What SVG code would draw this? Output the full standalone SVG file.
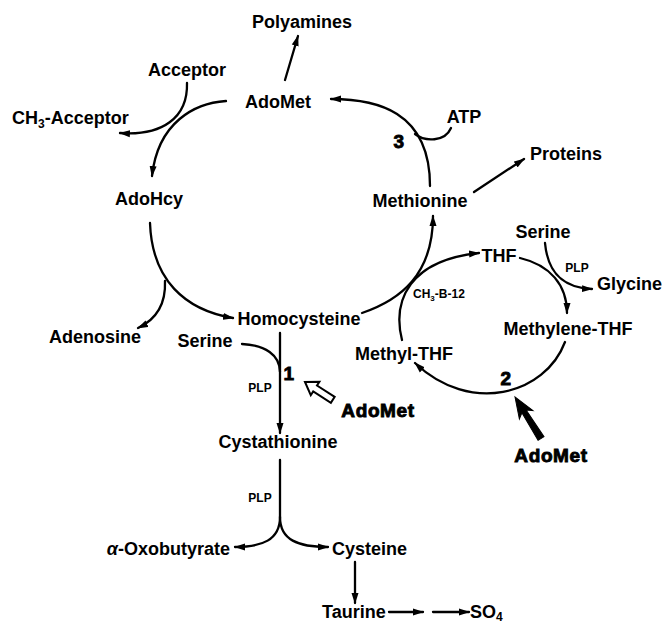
<svg xmlns="http://www.w3.org/2000/svg" width="665" height="624" viewBox="0 0 665 624">
<defs>
<marker id="ah" markerUnits="userSpaceOnUse" markerWidth="11" markerHeight="8" refX="10" refY="4" orient="auto">
<path d="M0,0.5 L11,4 L0,7.5 Z" fill="#000"/>
</marker>
<style>
.t{font-family:"Liberation Sans",Arial,sans-serif;font-weight:bold;font-size:18px;fill:#000}
.s{font-family:"Liberation Sans",Arial,sans-serif;font-weight:bold;font-size:12px;fill:#000}
.h{font-family:"Liberation Sans",Arial,sans-serif;font-weight:900;font-size:19px;fill:#000;stroke:#000;stroke-width:0.9;letter-spacing:0.6px}
.c{fill:none;stroke:#000;stroke-width:2.3;stroke-linecap:round}
.a{marker-end:url(#ah)}
.m{text-anchor:middle}
</style>
</defs>
<rect width="665" height="624" fill="#fff"/>
<g id="connectors">
<path class="c a" d="M226,101 C195,103 158,122 152,176"/>
<path class="c a" d="M187,83 C188,118 162,136 120,133"/>
<path class="c a" d="M285,80 L298,36"/>
<path class="c a" d="M430,186 C430,110 375,99 331,99"/>
<path class="c" d="M451,128 C445,142 425,142 415,134"/>
<path class="c a" d="M474,192 L524,159"/>
<path class="c a" d="M150,223 C152,280 185,310 233,318"/>
<path class="c a" d="M165,281 C166,305 155,320 138,328"/>
<path class="c a" d="M362,313 C400,300 433,275 433,216"/>
<path class="c a" d="M402,340 C392,300 410,260 479,253"/>
<path class="c a" d="M520,258 C550,265 567,285 567,313"/>
<path class="c a" d="M545,243 C548,275 565,288 592,289"/>
<path class="c a" d="M565,342 C545,395 470,415 415,363"/>
<path class="c a" d="M280,333 L280,433"/>
<path class="c" d="M242,344 C265,345 280,355 280,372"/>
<path class="c" d="M280,460 L280,517"/>
<path class="c a" d="M280,517 C280,540 262,547 235,547"/>
<path class="c a" d="M280,517 C280,540 298,547 328,547"/>
<path class="c a" d="M355,562 L355,603"/>
<path class="c a" d="M389,612 L423,612"/>
<path class="c a" d="M433,612 L469,612"/>
<polygon points="0,0 -12,-8 -12,-3.5 -33,-3.5 -33,3.5 -12,3.5 -12,8" transform="translate(305,382) rotate(212.7)" fill="#fff" stroke="#000" stroke-width="2" stroke-linejoin="miter"/>
<polygon points="0,0 -21,-8 -17,-2.5 -49,-3.5 -49,3.5 -17,2.5 -21,8" transform="translate(515,397) rotate(237.9)" fill="#000" stroke="#000" stroke-width="1"/>
</g>
<g id="n-polyamines"><text class="t m" x="302" y="28">Polyamines</text></g>
<g id="n-acceptor"><text class="t m" x="187" y="76">Acceptor</text></g>
<g id="n-adomet"><text class="t m" x="278" y="108">AdoMet</text></g>
<g id="n-ch3acceptor"><text class="t" x="12" y="124">CH<tspan font-size="12" dy="4">3</tspan><tspan dy="-4">-Acceptor</tspan></text></g>
<g id="n-adohcy"><text class="t m" x="149" y="205">AdoHcy</text></g>
<g id="n-atp"><text class="t m" x="464" y="123">ATP</text></g>
<g id="n-3"><text class="h m" x="399" y="148">3</text></g>
<g id="n-proteins"><text class="t" x="530" y="160">Proteins</text></g>
<g id="n-methionine"><text class="t m" x="420" y="207">Methionine</text></g>
<g id="n-serine2"><text class="t m" x="543" y="238">Serine</text></g>
<g id="n-thf"><text class="t m" x="499" y="262">THF</text></g>
<g id="n-plp2"><text class="s m" x="577" y="272">PLP</text></g>
<g id="n-glycine"><text class="t" x="597" y="290">Glycine</text></g>
<g id="n-ch3b12"><text class="s" x="413" y="298">CH<tspan font-size="8" dy="3">3</tspan><tspan dy="-3">-B-12</tspan></text></g>
<g id="n-adenosine"><text class="t m" x="95" y="343">Adenosine</text></g>
<g id="n-homocysteine"><text class="t m" x="299" y="325">Homocysteine</text></g>
<g id="n-serine1"><text class="t m" x="205" y="347">Serine</text></g>
<g id="n-1"><text class="h m" x="289" y="380">1</text></g>
<g id="n-plp1"><text class="s m" x="260" y="392">PLP</text></g>
<g id="n-cystathionine"><text class="t m" x="278" y="448">Cystathionine</text></g>
<g id="n-adomet1"><text class="h m" x="378" y="417">AdoMet</text></g>
<g id="n-methylthf"><text class="t m" x="404" y="360">Methyl-THF</text></g>
<g id="n-methylenethf"><text class="t m" x="568" y="335">Methylene-THF</text></g>
<g id="n-2"><text class="h m" x="506" y="385">2</text></g>
<g id="n-adomet2"><text class="h m" x="551" y="462">AdoMet</text></g>
<g id="n-plp3"><text class="s m" x="260" y="502">PLP</text></g>
<g id="n-oxobutyrate"><text class="t" x="230" y="555" text-anchor="end"><tspan font-style="italic">α</tspan>-Oxobutyrate</text></g>
<g id="n-cysteine"><text class="t" x="332" y="555">Cysteine</text></g>
<g id="n-taurine"><text class="t" x="322" y="618">Taurine</text></g>
<g id="n-so4"><text class="t" x="470" y="618">SO<tspan font-size="12" dy="3">4</tspan></text></g>
</svg>
